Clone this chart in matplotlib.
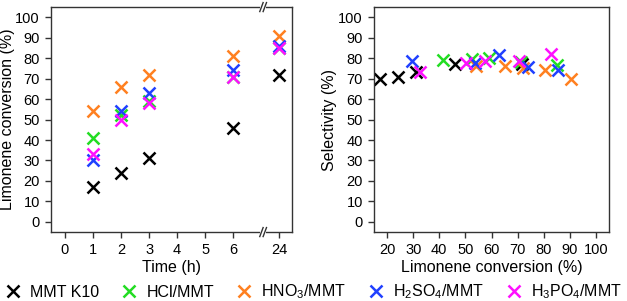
import matplotlib
matplotlib.use("Agg")
import matplotlib.pyplot as plt
from matplotlib.lines import Line2D

plt.rcParams['font.family'] = ['Liberation Sans', 'DejaVu Sans']
plt.rcParams['mathtext.fontset'] = 'custom'
plt.rcParams['mathtext.rm'] = 'Liberation Sans'
plt.rcParams['mathtext.it'] = 'Liberation Sans'

# ---- data ----
time_labels = ["0", "1", "2", "3", "4", "5", "6", "24"]
time_ticks = [0, 1, 2, 3, 4, 5, 6, 7.64]   # 24 h placed after the axis break
time_pos = [1, 2, 3, 6, 7.64]
series = ["MMT K10", "HCl/MMT", "HNO$_3$/MMT", "H$_2$SO$_4$/MMT", "H$_3$PO$_4$/MMT"]
colors = ["#000000", "#22dd22", "#ff8020", "#2040ff", "#ff10ff"]

conv_k10 = [17, 24, 31, 46, 72]
conv_hcl = [41, 52, 59, 71, 85]
conv_hno3 = [54, 66, 72, 81, 91]
conv_h2so4 = [30, 54, 63, 74, 86]
conv_h3po4 = [33, 50, 58, 71, 85]

sel_k10 = [70, 71, 73.5, 77, 77]
sel_hcl = [79, 79.5, 80, 78, 76.5]
sel_hno3 = [76, 76, 75.3, 74, 70]
sel_h2so4 = [78.5, 77.5, 81.4, 75.8, 74]
sel_h3po4 = [73.5, 77.5, 78.6, 78.8, 82.3]

# right-panel conversion coordinates (as plotted)
xs_k10 = [17.3, 24.2, 31, 46, 71.6]
xs_hcl = [41.5, 52.5, 59, 71.4, 85]
xs_hno3 = [54, 65.3, 72, 80.5, 90.4]
xs_h2so4 = [29.7, 53.5, 62.7, 74, 85.3]
xs_h3po4 = [32.7, 50.2, 57.7, 70.5, 82.8]

conv = [conv_k10, conv_hcl, conv_hno3, conv_h2so4, conv_h3po4]
sel = [sel_k10, sel_hcl, sel_hno3, sel_h2so4, sel_h3po4]
selx = [xs_k10, xs_hcl, xs_hno3, xs_h2so4, xs_h3po4]

fig = plt.figure(figsize=(6.27, 3.01), dpi=100)
ax1 = fig.add_axes([0.0813, 0.229, 0.3844, 0.7475])
ax2 = fig.add_axes([0.5965, 0.229, 0.3748, 0.7475])

ms = 9
mew = 1.8
for c, col in zip(conv, colors):
    ax1.plot(time_pos, c, linestyle='none', marker='x', color=col, ms=ms, mew=mew)
for xs, s, col in zip(selx, sel, colors):
    ax2.plot(xs, s, linestyle='none', marker='x', color=col, ms=ms, mew=mew)

spine_col = "#333333"
for ax in (ax1, ax2):
    ax.set_ylim(-5, 105)
    ax.set_yticks(range(0, 101, 10))
    for sp in ax.spines.values():
        sp.set_color(spine_col)
        sp.set_linewidth(1.0)
    ax.tick_params(axis='both', labelsize=10.5, length=4.5, width=1, color=spine_col,
                   pad=3.5, direction='out', top=False, right=False)

ax1.set_xlim(-0.5, 8.1)
ax1.set_xticks(time_ticks)
ax1.set_xticklabels(time_labels)
ax1.set_xlabel("Time (h)", fontsize=11.5, labelpad=2)
ax1.set_ylabel("Limonene conversion (%)", fontsize=11.5, labelpad=0)

ax2.set_xlim(15, 105)
ax2.set_xticks(range(20, 101, 10))
ax2.set_xlabel("Limonene conversion (%)", fontsize=11.5, labelpad=2)
ax2.set_ylabel("Selectivity (%)", fontsize=11.5, labelpad=1)

# axis break marks on left panel
bx = 7.07
for yy in (0, 1):
    ax1.plot([bx - 0.12, bx + 0.12], [yy, yy], transform=ax1.get_xaxis_transform(),
             color='white', lw=3, clip_on=False, zorder=5, solid_capstyle='butt')
    for dx in (-0.06, 0.06):
        ax1.plot([bx + dx - 0.06, bx + dx + 0.06], [yy - 0.02, yy + 0.02],
                 transform=ax1.get_xaxis_transform(), color=spine_col, lw=1,
                 clip_on=False, zorder=6)

handles = [Line2D([], [], linestyle='none', marker='x', color=col, ms=ms, mew=mew)
           for col in colors]
fig.legend(handles, series, loc='center', bbox_to_anchor=(0.5, 0.03), ncol=5,
           frameon=False, fontsize=11.5, handletextpad=0.6, columnspacing=1.35,
           handlelength=1.0, borderpad=0, borderaxespad=0)

fig.savefig("out.png", dpi=100)
